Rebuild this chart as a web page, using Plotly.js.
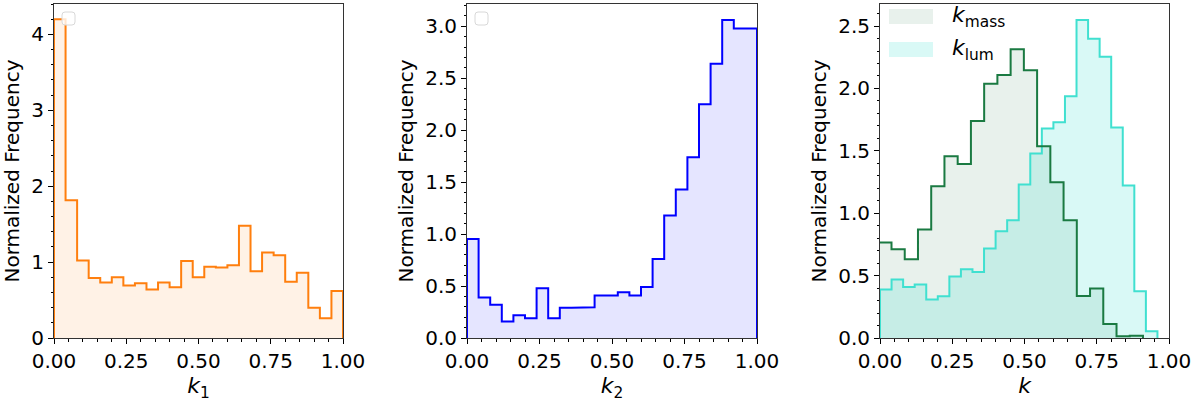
<!DOCTYPE html>
<html>
<head>
<meta charset="utf-8">
<script src="https://cdn.plot.ly/plotly-3.0.1.min.js"></script>
<style>
  body { margin: 0; background: #fff; }
  #myDiv { width: 1200px; height: 405px; }
</style>
</head>
<body>
<div id="myDiv"></div>
<script>
// histogram bins (start, width) and normalized frequencies per bin
var k1Start = 0, k1Width = 0.04
var k1Freq = [4.20, 1.815, 1.02, 0.79, 0.73, 0.80, 0.69, 0.72, 0.64, 0.73,
        0.67, 1.015, 0.80, 0.94, 0.93, 0.96, 1.48, 0.88, 1.125, 1.09,
        0.74, 0.86, 0.40, 0.26, 0.62]

var k2Start = 0, k2Width = 0.04
var k2Freq = [0.954, 0.39, 0.32, 0.16, 0.22, 0.19, 0.48, 0.19, 0.29, 0.29,
        0.295, 0.41, 0.41, 0.44, 0.41, 0.49, 0.76, 1.18, 1.43, 1.74,
        2.25, 2.64, 3.06, 2.98, 2.98]

var massStart = -0.006, massWidth = 0.0458
var massFreq = [0.765, 0.711, 0.631, 0.869, 1.216, 1.457, 1.395, 1.74, 2.037, 2.107,
        2.315, 2.147, 1.537, 1.249, 0.944, 0.337, 0.396, 0.112, 0.014, 0.019]

var lumStart = 0, lumWidth = 0.04
var lumFreq = [0.388, 0.468, 0.409, 0.428, 0.308, 0.334, 0.492, 0.551, 0.529, 0.717,
        0.856, 0.944, 1.230, 1.479, 1.679, 1.73, 1.938, 2.548, 2.398, 2.254,
        1.687, 1.222, 0.374, 0.054]

var legendLabels = ['<i>k</i><sub>mass</sub>', '<i>k</i><sub>lum</sub>']
var xTitles = ['<i>k</i><sub>1</sub>', '<i>k</i><sub>2</sub>', '<i>k</i>']
var yTitle = 'Normalized Frequency'

var FONT = 'DejaVu Sans, sans-serif'

// outline of a step histogram, closed down to zero at both ends
function steps(start, width, vals) {
    var x = [start], y = [0]
    for (var i = 0; i < vals.length; i++) {
        x.push(start + i * width, start + (i + 1) * width)
        y.push(vals[i], vals[i])
    }
    x.push(start + vals.length * width)
    y.push(0)
    return {x: x, y: y}
}

function fillTrace(s, xa, ya, color) {
    return {type: 'scatter', mode: 'lines', x: s.x, y: s.y, xaxis: xa, yaxis: ya,
        fill: 'tozeroy', fillcolor: color, line: {width: 0, color: 'rgba(0,0,0,0)'},
        hoverinfo: 'skip', showlegend: false}
}
function lineTrace(s, xa, ya, color) {
    return {type: 'scatter', mode: 'lines', x: s.x, y: s.y, xaxis: xa, yaxis: ya,
        line: {width: 2, color: color}, hoverinfo: 'skip', showlegend: false}
}

var s1 = steps(k1Start, k1Width, k1Freq)
var s2 = steps(k2Start, k2Width, k2Freq)
var sm = steps(massStart, massWidth, massFreq)
var sl = steps(lumStart, lumWidth, lumFreq)

var ORANGE = '#ff7f0e', BLUE = '#0000ff', GREEN = '#1a7a42', TURQ = '#40e0d0'
var orangeFill = 'rgba(255,127,14,0.1)', blueFill = 'rgba(0,0,255,0.1)'
var greenFill = 'rgba(26,122,66,0.1)', turqFill = 'rgba(64,224,208,0.2)'

var data = [
    fillTrace(s1, 'x', 'y', orangeFill), lineTrace(s1, 'x', 'y', ORANGE),
    fillTrace(s2, 'x2', 'y2', blueFill), lineTrace(s2, 'x2', 'y2', BLUE),
    fillTrace(sm, 'x3', 'y3', greenFill), fillTrace(sl, 'x3', 'y3', turqFill),
    lineTrace(sl, 'x3', 'y3', TURQ), lineTrace(sm, 'x3', 'y3', GREEN)
]

var W = 1200, H = 405
function px(x) { return x / W }
function py(y) { return 1 - y / H }

function xAxis(domain, title, anchor) {
    return {
        domain: domain, anchor: anchor, range: [0, 1], dtick: 0.25, tickformat: '.2f',
        showgrid: false, zeroline: false, showline: true, mirror: true,
        linecolor: '#333', linewidth: 1,
        ticks: 'outside', ticklen: 5, tickwidth: 1, tickcolor: '#000',
        minor: {dtick: 0.05, ticks: 'outside', ticklen: 2.5, tickwidth: 1, tickcolor: '#000'},
        tickfont: {family: FONT, size: 20, color: '#000'},
        title: {text: title, font: {family: FONT, size: 22, color: '#000'}, standoff: 4}
    }
}
function yAxis(range, dtick, minor, fmt, anchor) {
    return {
        domain: [py(338), py(4)], anchor: anchor, range: range, dtick: dtick, tickformat: fmt,
        showgrid: false, zeroline: false, showline: true, mirror: true,
        linecolor: '#333', linewidth: 1,
        ticks: 'outside', ticklen: 5, tickwidth: 1, tickcolor: '#000',
        minor: {dtick: minor, ticks: 'outside', ticklen: 2.5, tickwidth: 1, tickcolor: '#000'},
        tickfont: {family: FONT, size: 20, color: '#000'},
        title: {text: yTitle, font: {family: FONT, size: 20, color: '#000'}, standoff: 6}
    }
}

// small empty rounded legend frame (legend with no entries)
function emptyBox(x0, y0, x1, y1) {
    var r = 3
    var p = 'M' + px(x0 + r) + ',' + py(y0) + ' L' + px(x1 - r) + ',' + py(y0) +
        ' Q' + px(x1) + ',' + py(y0) + ' ' + px(x1) + ',' + py(y0 + r) +
        ' L' + px(x1) + ',' + py(y1 - r) +
        ' Q' + px(x1) + ',' + py(y1) + ' ' + px(x1 - r) + ',' + py(y1) +
        ' L' + px(x0 + r) + ',' + py(y1) +
        ' Q' + px(x0) + ',' + py(y1) + ' ' + px(x0) + ',' + py(y1 - r) +
        ' L' + px(x0) + ',' + py(y0 + r) +
        ' Q' + px(x0) + ',' + py(y0) + ' ' + px(x0 + r) + ',' + py(y0) + ' Z'
    return {type: 'path', xref: 'paper', yref: 'paper', path: p,
        fillcolor: 'rgba(255,255,255,0.8)', line: {color: '#d8d8d8', width: 1}}
}

var shapes = [
    emptyBox(62, 12, 75, 25),
    emptyBox(475, 12, 488, 25),
    {type: 'rect', xref: 'paper', yref: 'paper', x0: px(889), x1: px(933), y0: py(24), y1: py(9),
        fillcolor: greenFill, line: {width: 0}},
    {type: 'rect', xref: 'paper', yref: 'paper', x0: px(889), x1: px(933), y0: py(57), y1: py(42),
        fillcolor: turqFill, line: {width: 0}}
]

var annotations = legendLabels.map(function (t, i) {
    return {xref: 'paper', yref: 'paper', x: px(950), y: py(16 + i * 33),
        xanchor: 'left', yanchor: 'middle', showarrow: false, text: t,
        font: {family: FONT, size: 22, color: '#000'}}
})

var layout = {
    width: W, height: H,
    margin: {l: 0, r: 0, t: 0, b: 0},
    paper_bgcolor: '#fff', plot_bgcolor: '#fff',
    showlegend: false,
    font: {family: FONT, color: '#000'},
    xaxis: xAxis([px(54), px(343)], xTitles[0], 'y'),
    yaxis: yAxis([0, 4.40], 1, 0.2, 'd', 'x'),
    xaxis2: xAxis([px(467), px(757)], xTitles[1], 'y2'),
    yaxis2: yAxis([0, 3.215], 0.5, 0.1, '.1f', 'x2'),
    xaxis3: xAxis([px(880), px(1169)], xTitles[2], 'y3'),
    yaxis3: yAxis([0, 2.677], 0.5, 0.1, '.1f', 'x3'),
    shapes: shapes,
    annotations: annotations
}

Plotly.newPlot('myDiv', data, layout, {displayModeBar: false, staticPlot: true})
</script>
</body>
</html>
